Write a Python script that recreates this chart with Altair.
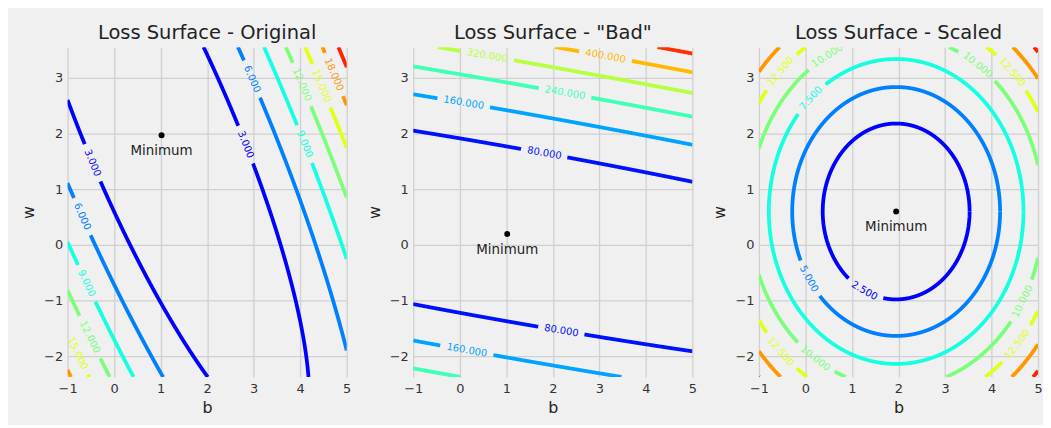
import numpy as np
import pandas as pd
import altair as alt

# ---------------- data ----------------
titles = ["Loss Surface - Original", 'Loss Surface - "Bad"', "Loss Surface - Scaled"]
b_domain = [-1.0, 5.0]
w_domain = [-2.37, 3.55]
b_ticks = [-1, 0, 1, 2, 3, 4, 5]
w_ticks = [-2, -1, 0, 1, 2, 3]

# location of the minimum (b, w) and loss value there
min_b = [1.02, 1.02, 1.95]
min_w = [1.97, 0.197, 0.60]
min_loss = [0.008, 0.008, 0.008]
# quadratic loss surface: loss = min + c_bb*db^2 + 2*c_bw*db*dw + c_ww*dw^2
coef_bb = [1.0, 1.0, 1.0]
coef_bw = [0.478, 4.78, 0.0]
coef_ww = [0.325, 32.5, 1.0]

levels_orig = [3, 6, 9, 12, 15, 18, 21]
levels_bad = [80, 160, 240, 320, 400, 480]
levels_scaled = [2.5, 5, 7.5, 10, 12.5, 15, 17.5]

colors_orig = ["#0000ff", "#0080ff", "#15ffe2", "#7bff7b", "#e2ff15", "#ff9700", "#ff2100"]
colors_bad = ["#0011ff", "#00a4ff", "#40ffb7", "#b7ff40", "#ffb900", "#ff3000"]
colors_scaled = ["#0000ff", "#0080ff", "#15ffe2", "#7bff7b", "#e2ff15", "#ff9700", "#ff2100"]

# inline contour labels (level, approximate b, approximate w)
label_orig_level = [3, 3, 6, 6, 9, 9, 12, 12, 15, 15, 18]
label_orig_b = [-0.45, 2.85, 3.01, -0.72, -0.59, 4.12, 4.08, -0.53, 4.53, -0.79, 4.79]
label_orig_w = [1.48, 1.81, 3.0, 0.49, -0.69, 1.82, 2.9, -1.66, 2.89, -1.95, 3.09]

label_bad_level = [80, 80, 160, 160, 240, 320, 400]
label_bad_b = [1.82, 2.18, 0.09, 0.15, 2.27, 0.60, 3.14]
label_bad_w = [1.66, -1.57, 2.59, -1.91, 2.77, 3.45, 3.43]

label_scaled_level = [2.5, 5, 7.5, 10, 10, 10, 10, 12.5, 12.5, 12.5, 12.5]
label_scaled_b = [1.28, 0.09, 0.11, 0.49, 3.72, 0.22, 4.70, -0.55, 4.47, -0.53, 4.57]
label_scaled_w = [-0.80, -0.60, 2.64, 3.36, 3.25, -2.02, -1.03, 3.13, 3.13, -1.91, -1.80]

min_text = "Minimum"

# ---------------- layout ----------------
PW, PH = 281, 332
LABEL_FS = 10


def build(i, levels, colors, lab_lv, lab_b, lab_w):
    A, B, C = coef_bb[i], coef_bw[i], coef_ww[i]
    b0, w0, L0 = min_b[i], min_w[i], min_loss[i]
    sx = PW / (b_domain[1] - b_domain[0])
    sy = PH / (w_domain[1] - w_domain[0])

    def Q(b, w):
        u, v = b - b0, w - w0
        return L0 + A * u * u + 2 * B * u * v + C * v * v

    def grad(b, w):
        u, v = b - b0, w - w0
        return 2 * (A * u + B * v), 2 * (B * u + C * v)

    labs = []
    for lv, bb, ww in zip(lab_lv, lab_b, lab_w):
        for _ in range(10):
            gb, gw = grad(bb, ww)
            r = (Q(bb, ww) - lv) / (gb * gb + gw * gw)
            bb -= r * gb
            ww -= r * gw
        gb, gw = grad(bb, ww)
        dx, dy = -gw * sx, -gb * sy
        ang = np.degrees(np.arctan2(dy, dx))
        if ang > 90:
            ang -= 180
        if ang <= -90:
            ang += 180
        txt = f"{lv:.3f}"
        half = (len(txt) - 1) * 0.636 * LABEL_FS / 2 + 0.16 * LABEL_FS + 6
        labs.append(dict(b=bb, w=ww, ang=ang % 360, txt=txt, lv=lv, half=half))

    M = np.array([[A, B], [B, C]])
    lam, V = np.linalg.eigh(M)
    t = np.linspace(0, 2 * np.pi, 12001)
    rows = []
    for k, col in zip(levels, colors):
        s = np.sqrt(k - L0)
        pts = V @ np.vstack([np.cos(t) / np.sqrt(lam[0]), np.sin(t) / np.sqrt(lam[1])]) * s
        b = b0 + pts[0]
        w = w0 + pts[1]
        inside = (b >= b_domain[0]) & (b <= b_domain[1]) & (w >= w_domain[0]) & (w <= w_domain[1])
        keep = inside.copy()
        keep[1:] |= inside[:-1]
        keep[:-1] |= inside[1:]
        for lb in labs:
            if lb["lv"] == k:
                d = np.hypot((b - lb["b"]) * sx, (w - lb["w"]) * sy)
                keep &= d > lb["half"]
        starts = np.diff(keep.astype(int), prepend=0) == 1
        seg = np.cumsum(starts)
        for j in np.where(keep)[0]:
            rows.append(dict(b=b[j], w=w[j], seg=f"{k}-{seg[j]}", idx=j, col=col))
    line_df = pd.DataFrame(rows)
    lab_df = pd.DataFrame(labs)
    lab_df["col"] = [colors[levels.index(lv)] for lv in lab_df["lv"]]
    min_df = pd.DataFrame({"b": [b0], "w": [w0], "txt": [min_text]})

    xs = alt.Scale(domain=b_domain, nice=False, zero=False)
    ys = alt.Scale(domain=w_domain, nice=False, zero=False)
    xax = alt.Axis(values=b_ticks, title="b", format="d", labelFlush=False)
    yax = alt.Axis(values=w_ticks, title="w", format="d", labelFlush=False)

    lines = alt.Chart(line_df).mark_line(strokeWidth=3.8, clip=True).encode(
        x=alt.X("b:Q", scale=xs, axis=xax),
        y=alt.Y("w:Q", scale=ys, axis=yax),
        detail="seg:N",
        order="idx:Q",
        color=alt.Color("col:N", scale=None),
    )
    labels = alt.Chart(lab_df).mark_text(
        fontSize=LABEL_FS, font="DejaVu Sans", align="center", baseline="middle", clip=True
    ).encode(
        x="b:Q", y="w:Q", text="txt:N",
        angle=alt.Angle("ang:Q", scale=None),
        color=alt.Color("col:N", scale=None),
    )
    mpt = alt.Chart(min_df).mark_point(filled=True, size=36, color="black", opacity=1).encode(
        x="b:Q", y="w:Q")
    mtx = alt.Chart(min_df).mark_text(dy=16, fontSize=13.5, font="DejaVu Sans", color="#222").encode(
        x="b:Q", y="w:Q", text="txt:N")
    return alt.layer(lines, labels, mpt, mtx).properties(
        width=PW, height=PH, title=alt.TitleParams(titles[i], frame="group"))


p1 = build(0, levels_orig, colors_orig, label_orig_level, label_orig_b, label_orig_w)
p2 = build(1, levels_bad, colors_bad, label_bad_level, label_bad_b, label_bad_w)
p3 = build(2, levels_scaled, colors_scaled, label_scaled_level, label_scaled_b, label_scaled_w)

chart = alt.hconcat(p1, p2, p3, spacing=67, bounds="flush").configure(
    background="#f0f0f0",
    padding={"left": 12, "top": 13, "right": 0, "bottom": 8},
).configure_view(stroke=None, fill="#f0f0f0").configure_axis(
    domain=False, ticks=False, grid=True, gridColor="#d0d0d0", gridWidth=1.3,
    labelFont="DejaVu Sans", labelFontSize=13, labelColor="#333", labelPadding=5,
    labelFlush=False,
    titleFont="DejaVu Sans", titleFontSize=16, titleColor="#222", titleFontWeight="normal",
).configure_axisX(titlePadding=4, labelPadding=6).configure_axisY(titlePadding=7).configure_title(
    font="DejaVu Sans", fontSize=19.6, fontWeight="normal", color="#222", offset=4, anchor="middle"
)

chart.save("out.html", embed_options={"renderer": "svg", "actions": False})
